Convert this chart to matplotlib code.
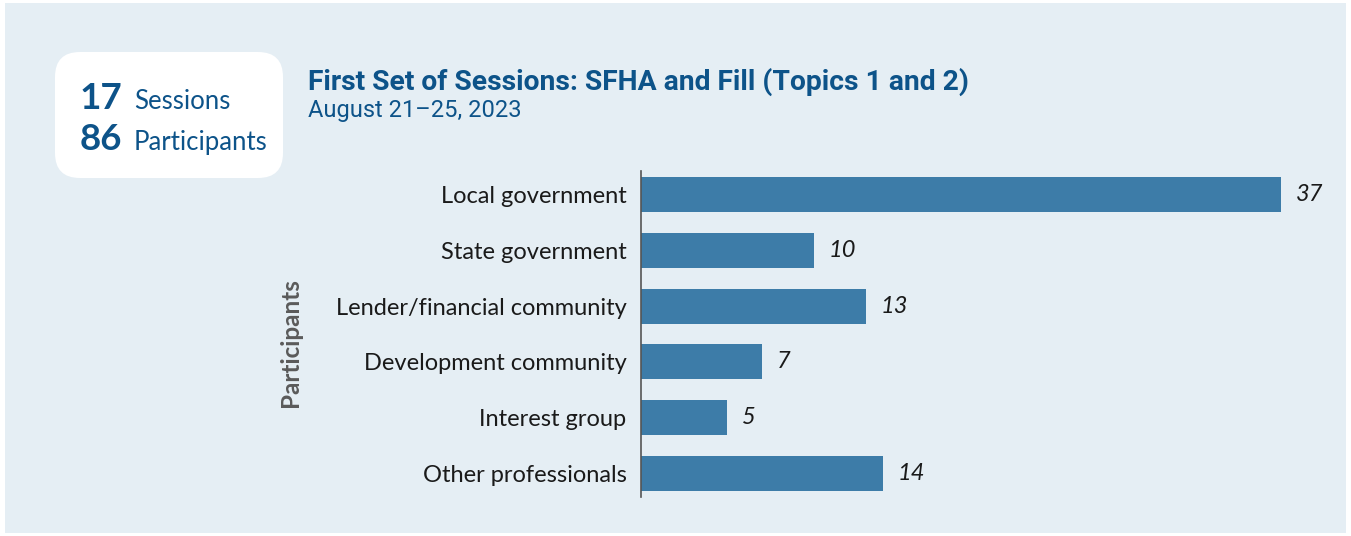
"""Participants by category for the first set of sessions."""

import matplotlib
matplotlib.use("Agg")
from matplotlib import pyplot as plt
from matplotlib.patches import FancyBboxPatch, Rectangle

categories = [
    "Local government",
    "State government",
    "Lender/financial community",
    "Development community",
    "Interest group",
    "Other professionals",
]
participants = [37, 10, 13, 7, 5, 14]
n_sessions = 17
n_participants = 86

title = "First Set of Sessions: SFHA and Fill (Topics 1 and 2)"
subtitle = "August 21\u201325, 2023"

BG = "#e5eef4"
BAR = "#3d7ca8"
DARK_BLUE = "#0d5389"
W, H = 1351, 536

plt.rcParams["font.family"] = ["Lato", "DejaVu Sans"]

fig = plt.figure(figsize=(W / 100, H / 100), dpi=100)
fig.patch.set_facecolor("white")

# background layer in pixel coordinates
bg = fig.add_axes([0, 0, 1, 1])
bg.set_xlim(0, W)
bg.set_ylim(H, 0)
bg.axis("off")
bg.add_patch(Rectangle((5, 3), 1341, 530, facecolor=BG, edgecolor="none"))
bg.add_patch(FancyBboxPatch((55 + 25, 52 + 25), 228 - 50, 126 - 50,
                            boxstyle="round,pad=25", facecolor="white",
                            edgecolor="none"))

bg.text(122, 109, str(n_sessions), ha="right", va="baseline", fontsize=26.5,
        fontweight="bold", color=DARK_BLUE)
bg.text(134, 109, "Sessions", ha="left", va="baseline", fontsize=18.5,
        color=DARK_BLUE)
bg.text(122, 150, str(n_participants), ha="right", va="baseline", fontsize=26.5,
        fontweight="bold", color=DARK_BLUE)
bg.text(134, 150, "Participants", ha="left", va="baseline", fontsize=18.5,
        color=DARK_BLUE)

bg.text(308, 90, title, ha="left", va="baseline", fontsize=20.3,
        fontweight="bold", color=DARK_BLUE, family=["Roboto", "DejaVu Sans"])
bg.text(308, 117, subtitle, ha="left", va="baseline", fontsize=17,
        color=DARK_BLUE, family=["Roboto", "DejaVu Sans"])

bg.text(290, 343, "Participants", rotation=90, ha="center", va="center",
        fontsize=17.5, fontweight="bold", color="#5a5a5a")

# bar chart
ax = fig.add_axes([641 / W, 1 - 497 / H, (1281 - 641) / W, (497 - 171) / H])
ax.patch.set_alpha(0)
y_pos = range(len(categories))
ax.barh(y_pos, participants, height=0.63, color=BAR)
ax.set_xlim(0, 37)
ax.set_ylim(5.43, -0.43)
ax.set_yticks(list(y_pos))
ax.set_yticklabels(categories, fontsize=17, color="#1a1a1a")
ax.tick_params(axis="y", length=0, pad=10.5)
ax.set_xticks([])
for side in ("top", "right", "bottom"):
    ax.spines[side].set_visible(False)
ax.spines["left"].set_color("#555555")
ax.spines["left"].set_linewidth(1.2)

for i, v in enumerate(participants):
    ax.annotate(str(v), (v, i), xytext=(10.5, 0), textcoords="offset points",
                ha="left", va="center", fontsize=17, fontstyle="italic",
                color="#1a1a1a", annotation_clip=False)

fig.savefig("out.png", dpi=100, facecolor="white")
